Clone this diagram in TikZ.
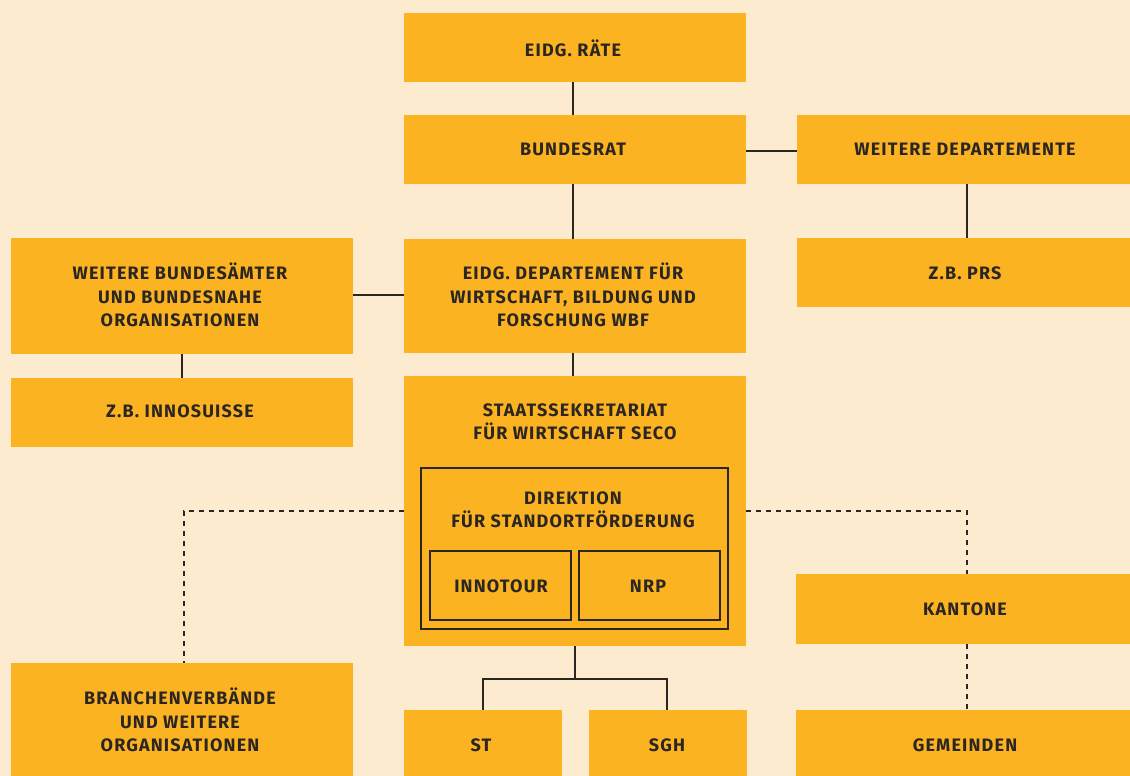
\documentclass[tikz,border=0pt]{standalone}
\usepackage{fontspec}
\setmainfont{Fira Sans}[BoldFont={Fira Sans Bold},LetterSpace=6.5]
\definecolor{bg}{HTML}{FDEBD0}
\definecolor{box}{HTML}{FCB322}
\definecolor{ink}{HTML}{2B2622}
\begin{document}
\begin{tikzpicture}[x=1pt,y=-1pt,
  org/.style={fill=box,draw=none,text=ink,font=\bfseries\fontsize{18}{23.5}\selectfont,align=center},
  inner/.style={draw=ink,line width=1.2pt},
  link/.style={draw=ink,line width=1.2pt},
  dlink/.style={draw=ink,line width=1.2pt,dash pattern=on 5pt off 5pt}]
\fill[bg] (0,0) rectangle (1130,776);
\useasboundingbox (0,0) rectangle (1130,776);
% boxes
\fill[box] (404,13) rectangle (746,82);
\node[org] (rate) at (573,48) {EIDG. RÄTE};
\fill[box] (404,115) rectangle (746,184);
\node[org] (brat) at (573,149) {BUNDESRAT};
\fill[box] (797,115) rectangle (1130,184);
\node[org] (wdep) at (965,149) {WEITERE DEPARTEMENTE};
\fill[box] (797,238) rectangle (1130,307);
\node[org] (prs) at (965,273) {Z.B. PRS};
\fill[box] (404,239) rectangle (746,353);
\node[org] (wbf) at (573,295) {EIDG. DEPARTEMENT FÜR\\WIRTSCHAFT, BILDUNG UND\\FORSCHUNG WBF};
\fill[box] (11,238) rectangle (353,354);
\node[org] (wba) at (180,295) {WEITERE BUNDESÄMTER\\UND BUNDESNAHE\\ORGANISATIONEN};
\fill[box] (11,378) rectangle (353,447);
\node[org] (inno) at (180,411) {Z.B. INNOSUISSE};
\fill[box] (404,376) rectangle (746,646);
\node[org] (seco) at (575,422) {STAATSSEKRETARIAT\\FÜR WIRTSCHAFT SECO};
\draw[inner] (421,468) rectangle (728,629);
\node[org,fill=none] (dir) at (573,510) {DIREKTION\\FÜR STANDORTFÖRDERUNG};
\draw[inner] (430,551) rectangle (571,620);
\node[org,fill=none] (itour) at (501,586) {INNOTOUR};
\draw[inner] (579,551) rectangle (720,620);
\node[org,fill=none] (nrp) at (648,586) {NRP};
\fill[box] (796,574) rectangle (1130,644);
\node[org] (kant) at (965,609) {KANTONE};
\fill[box] (796,710) rectangle (1130,776);
\node[org] (gem) at (965,745) {GEMEINDEN};
\fill[box] (404,710) rectangle (562,776);
\node[org] (st) at (481,745) {ST};
\fill[box] (589,710) rectangle (747,776);
\node[org] (sgh) at (667,745) {SGH};
\fill[box] (11,663) rectangle (353,776);
\node[org] (branch) at (180,720) {BRANCHENVERBÄNDE\\UND WEITERE\\ORGANISATIONEN};
% coordinates
\coordinate (c1) at (573,82); \coordinate (c2) at (573,115);
\coordinate (c3) at (746,151); \coordinate (c4) at (797,151);
\coordinate (c5) at (967,184); \coordinate (c6) at (967,238);
\coordinate (c7) at (573,184); \coordinate (c8) at (573,239);
\coordinate (c9) at (353,295); \coordinate (c10) at (404,295);
\coordinate (c11) at (182,354); \coordinate (c12) at (182,378);
\coordinate (c13) at (573,353); \coordinate (c14) at (573,376);
\coordinate (c15) at (575,646); \coordinate (c16) at (575,679);
\coordinate (st-n) at (483,710); \coordinate (sgh-n) at (667,710);
\coordinate (sl) at (404,511); \coordinate (sr) at (746,511);
\coordinate (br-n) at (184,663); \coordinate (ka-n) at (967,574);
\coordinate (ka-s) at (967,644); \coordinate (ge-n) at (967,710);
\draw[link] (c1) -- (c2);
\draw[link] (c3) -- (c4);
\draw[link] (c5) -- (c6);
\draw[link] (c7) -- (c8);
\draw[link] (c9) -- (c10);
\draw[link] (c11) -- (c12);
\draw[link] (c13) -- (c14);
\draw[link] (c15) -- (c16) -| (st-n);
\draw[link] (c16) -| (sgh-n);
\draw[dlink] (sl) -| (br-n);
\draw[dlink] (sr) -| (ka-n);
\draw[dlink] (ka-s) -- (ge-n);
\end{tikzpicture}
\end{document}
